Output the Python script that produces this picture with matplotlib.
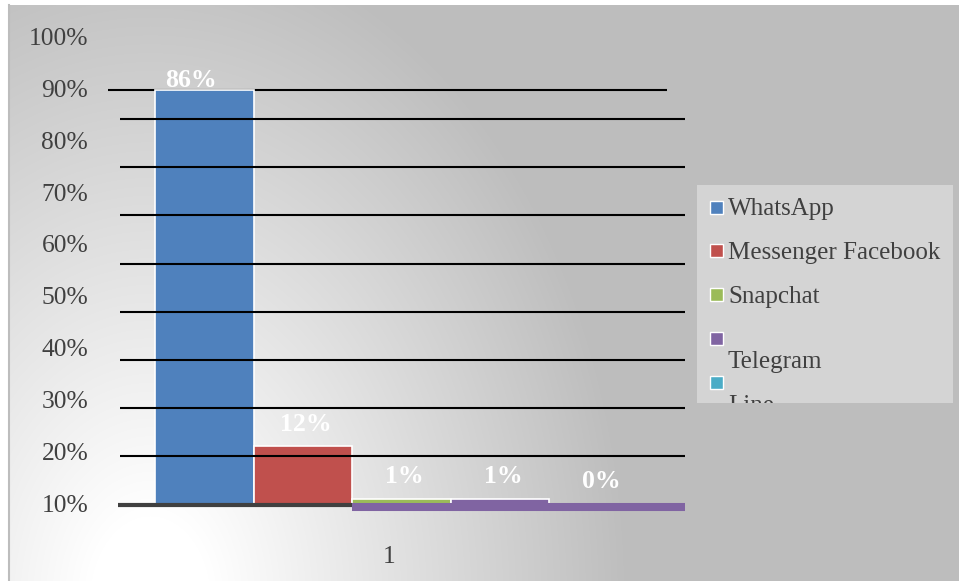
import numpy as np
import matplotlib.pyplot as plt
from matplotlib.patches import Rectangle
from matplotlib.lines import Line2D

# data
apps = ['WhatsApp', 'Messenger Facebook', 'Snapchat', 'Telegram', 'Line']
shares = [86, 12, 1, 1, 0]
colors = ['#4f81bd', '#c0504d', '#9bbb59', '#8064a2', '#4bacc6']
grid_levels = [10, 20, 30, 40, 50, 60, 70, 80]
tick_labels = ['10%', '20%', '30%', '40%', '50%', '60%', '70%', '80%', '90%', '100%']
category_label = '1'

W, H = 959, 581
txt = '#404040'
plt.rcParams['font.family'] = ['Liberation Serif', 'DejaVu Serif']

def fx(x):
    return x / W

def fy(y):
    return 1 - y / H

fig = plt.figure(figsize=(W / 100, H / 100), dpi=100)
fig.patch.set_facecolor('white')

# gradient background (light at bottom left)
bg = fig.add_axes([fx(9), 0, fx(950), 1 - 5 / H])
yy, xx = np.mgrid[5:581, 9:959]
r = np.sqrt((xx - 150.0) ** 2 + ((yy - 600.0) / 1.4) ** 2)
g = np.clip(255 - 66 * (r - 60) / 420, 189, 255) / 255
bg.imshow(np.dstack([g, g, g]), extent=(9, 959, 581, 5), aspect='auto')
bg.axis('off')
fig.add_artist(Line2D([fx(8.5), fx(8.5)], [0, fy(5)], color='#bdbdbd', lw=1.5))

# main plot area
scale = 4.81  # px per percent
ax = fig.add_axes([fx(118), fy(504), fx(567), (504 - 30) / H])
ax.patch.set_visible(False)
x = np.arange(len(apps))
ax.set_xlim(-0.876, 4.876)
ax.set_ylim(0, 474 / scale)

ax.bar(x, shares, width=1, color=colors, edgecolor='white', linewidth=1.2, zorder=2)

# odd gridlines of the original
ax.hlines(shares[0], -0.977, 4.698, color='k', lw=1.5, zorder=1, clip_on=False)
ax.hlines(grid_levels, -0.856, 4.876, color='k', lw=1.5, zorder=3)
ax.hlines(-0.3, -0.876, 1.5, color='#404040', lw=3, zorder=4, clip_on=False)
ax.hlines(-0.65, 1.5, 4.876, color=colors[3], lw=5.8, zorder=4, clip_on=False)

# value labels
offsets = [(-10, 7)] + [(2, 16)] * 4
for i, v in enumerate(shares):
    ax.annotate(f'{v}%', (x[i], v), xytext=offsets[i], textcoords='offset points',
                ha='center', va='center', color='white', fontsize=18.5,
                fontweight='bold', zorder=5)

tick_pos = [(504 - (503 - 51.83 * k)) / scale for k in range(10)]
ax.set_yticks(tick_pos, tick_labels)
ax.set_xticks([1.88], [category_label])
ax.tick_params(axis='y', length=0, pad=21.5, labelsize=18.4, labelcolor=txt)
ax.tick_params(axis='x', length=0, pad=30, labelsize=18.4, labelcolor=txt)
for s in ax.spines.values():
    s.set_visible(False)

# legend box drawn by hand (wrapped, clipped entries)
box = Rectangle((fx(697), fy(403)), fx(256), 218 / H, transform=fig.transFigure,
                facecolor='#d4d4d4', edgecolor='none')
fig.add_artist(box)
wrap = [False, False, False, True, True]
for i, name in enumerate(apps):
    yc = 207 + 43.75 * i
    fig.add_artist(Rectangle((fx(710), fy(yc + 6.5)), fx(13), 13 / H,
                             transform=fig.transFigure, facecolor=colors[i],
                             edgecolor='white', lw=1))
    t = fig.text(fx(728), fy(yc + 8 + 22 * wrap[i]), name, fontsize=18,
                 color=txt, va='baseline', ha='left')
    t.set_clip_path(box)

plt.savefig('out.png', dpi=100)
